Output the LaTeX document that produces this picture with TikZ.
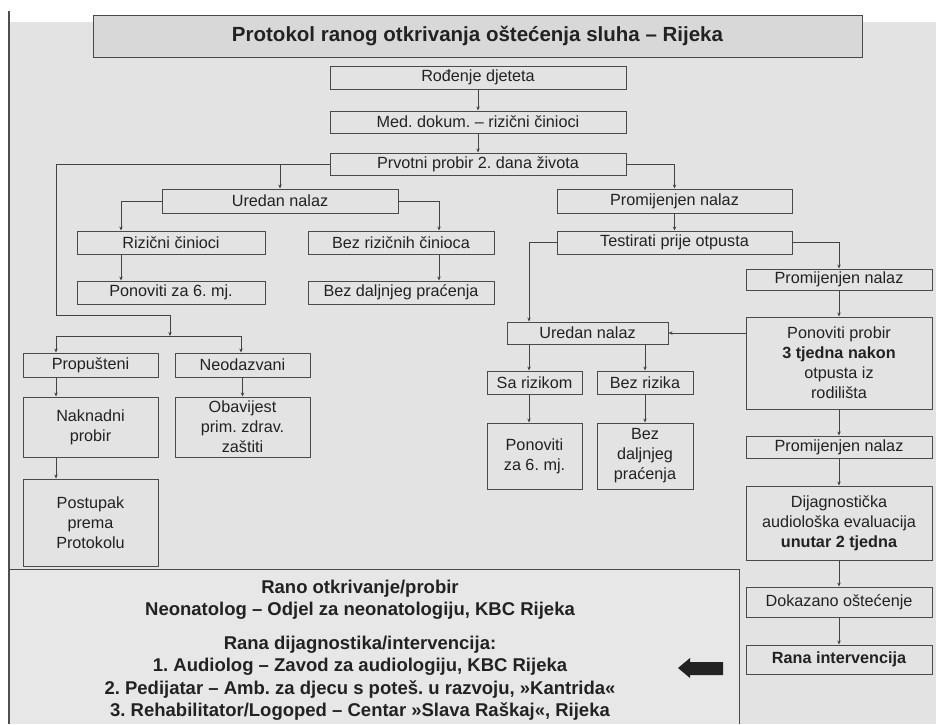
\documentclass[tikz,border=0pt]{standalone}
\usepackage{fontspec}
\setmainfont{Liberation Sans}
\usetikzlibrary{arrows.meta,positioning,calc}
\definecolor{Frame}{HTML}{4A4A4A}
\definecolor{Ink}{HTML}{222222}
\definecolor{Paper}{HTML}{E3E3E3}
\definecolor{TitleFill}{HTML}{D8D8D8}
\definecolor{NoteFill}{HTML}{E7E7E7}
\frenchspacing

\begin{document}
\begin{tikzpicture}[x=1pt,y=-1pt,
 every node/.style={font=\fontsize{16.2}{20}\selectfont,text=Ink},
 flowbox/.style={draw=Frame,line width=1pt,inner sep=0pt,align=center},
 wh/.style 2 args={minimum width=#1pt,minimum height=#2pt},
 arr/.style={draw=Ink!85,line width=0.7pt,-{Stealth[length=4pt,width=3.4pt]}},
 link/.style={draw=Ink!85,line width=0.7pt}]
\useasboundingbox (0,0) rectangle (936,724);
\fill[Paper] (10,22) rectangle (936,724);
\fill[NoteFill] (10,569) rectangle (739,724);
\draw[Frame,line width=1pt] (10,569) -- (739,569) -- (739,724);
\draw[Ink!80,line width=1.4pt] (9,11) -- (9,724);

\node[flowbox,fill=TitleFill,wh={769}{42},font=\fontsize{20.5}{24}\selectfont\bfseries] (title) at (477.5,36) {Protokol ranog otkrivanja oštećenja sluha – Rijeka};
\node[flowbox,wh={296}{23}] (rodjenje) at (478,77.5) {Rođenje djeteta};
\node[flowbox,wh={296}{22}] (meddok) at (478,122) {Med. dokum. – rizični činioci};
\node[flowbox,wh={296}{22}] (prvotni) at (478,164) {Prvotni probir 2. dana života};

\node[flowbox,wh={236}{24}] (uredanL) at (280,201) {Uredan nalaz};
\node[flowbox,wh={188}{23}] (rizicni) at (171,242.5) {Rizični činioci};
\node[flowbox,wh={186}{23}] (bezriz) at (401,242.5) {Bez rizičnih činioca};
\node[flowbox,wh={188}{23}] (ponL) at (171,292.5) {Ponoviti za 6. mj.};
\node[flowbox,wh={186}{23}] (bezdaljL) at (401,292.5) {Bez daljnjeg praćenja};

\node[flowbox,wh={135}{24}] (propusteni) at (90.5,365) {Propušteni};
\node[flowbox,wh={135}{24}] (neodazvani) at (242.5,365) {Neodazvani};
\node[flowbox,wh={135}{60}] (naknadni) at (90.5,427) {Naknadni\\probir};
\node[flowbox,wh={135}{60}] (obavijest) at (242.5,427) {Obavijest\\prim. zdrav.\\zaštiti};
\node[flowbox,wh={135}{87}] (postupak) at (90.5,522.5) {Postupak\\prema\\Protokolu};

\node[flowbox,wh={235}{24}] (promA) at (674.5,201) {Promijenjen nalaz};
\node[flowbox,wh={235}{23}] (testirati) at (674.5,242.5) {Testirati prije otpusta};
\node[flowbox,wh={186}{21}] (promB) at (839,279.5) {Promijenjen nalaz};
\node[flowbox,wh={186}{92}] (ponprobir) at (839,363) {Ponoviti probir\\\textbf{3 tjedna nakon}\\otpusta iz\\rodilišta};
\node[flowbox,wh={161}{22}] (uredanR) at (587.5,333) {Uredan nalaz};
\node[flowbox,wh={95}{23}] (sariz) at (534.5,382.5) {Sa rizikom};
\node[flowbox,wh={96}{23}] (bezrizR) at (645,382.5) {Bez rizika};
\node[flowbox,wh={95}{66}] (ponR) at (534.5,456) {Ponoviti\\za 6. mj.};
\node[flowbox,wh={96}{66}] (bezdaljR) at (645,456) {Bez\\daljnjeg\\praćenja};
\node[flowbox,wh={186}{22}] (promC) at (839,447) {Promijenjen nalaz};
\node[flowbox,wh={186}{74}] (dijag) at (839,523) {Dijagnostička\\audiološka evaluacija\\\textbf{unutar 2 tjedna}};
\node[flowbox,wh={186}{30}] (dokaz) at (839,602) {Dokazano oštećenje};
\node[flowbox,wh={186}{29},font=\fontsize{16.2}{20}\selectfont\bfseries] (rana) at (839,659.5) {Rana intervencija};

\node[font=\fontsize{18.5}{22.5}\selectfont\bfseries,align=center] (earlyA) at (360,599.5) {Rano otkrivanje/probir\\Neonatolog – Odjel za neonatologiju, KBC Rijeka};
\node[font=\fontsize{18.5}{22.5}\selectfont\bfseries,align=center] (earlyB) at (360,678) {Rana dijagnostika/intervencija:\\1. Audiolog – Zavod za audiologiju, KBC Rijeka\\2. Pedijatar – Amb. za djecu s poteš. u razvoju, »Kantrida«\\3. Rehabilitator/Logoped – Centar »Slava Raškaj«, Rijeka};

\coordinate (colA) at (56,315);
\coordinate (colB) at (121,0);
\coordinate (colC) at (439,0);
\coordinate (colD) at (529,0);
\coordinate (missJ) at (170,336);
\coordinate (barR) at (241,336);

\foreach \a/\b in {rodjenje/meddok,meddok/prvotni,promA/testirati,promB/ponprobir,ponprobir/promC,promC/dijag,dijag/dokaz,dokaz/rana,neodazvani/obavijest,bezrizR/bezdaljR}
 \draw[arr] (\a) -- (\b);
\draw[arr] (prvotni.west) -| (uredanL.north);
\draw[arr] (prvotni.east) -| (promA.north);
\draw[arr] (prvotni.west) -| (colA) -| (missJ);
\draw[arr] (uredanL.west) -| (colB |- rizicni.north);
\draw[arr] (uredanL.east) -| (colC |- bezriz.north);
\draw[arr] (colB |- rizicni.south) -- (colB |- ponL.north);
\draw[arr] (colC |- bezriz.south) -- (colC |- bezdaljL.north);
\draw[link] (colA |- missJ) -- (barR);
\draw[arr] (colA |- missJ) -- (colA |- propusteni.north);
\draw[arr] (barR) -- (barR |- neodazvani.north);
\draw[arr] (colA |- propusteni.south) -- (colA |- naknadni.north);
\draw[arr] (colA |- naknadni.south) -- (colA |- postupak.north);
\draw[arr] (testirati.west) -| (colD |- uredanR.north);
\draw[arr] (testirati.east) -| (promB.north);
\draw[arr] (uredanR.east -| ponprobir.west) -- (uredanR.east);
\draw[arr] (colD |- uredanR.south) -- (colD |- sariz.north);
\draw[arr] (colD |- sariz.south) -- (colD |- ponR.north);
\draw[arr] (uredanR.south -| bezrizR) -- (bezrizR);

\fill[Ink] (678,668) -- (690,658) -- (690,662) -- (723,662) -- (723,675) -- (690,675) -- (690,678) -- cycle;
\end{tikzpicture}
\end{document}
